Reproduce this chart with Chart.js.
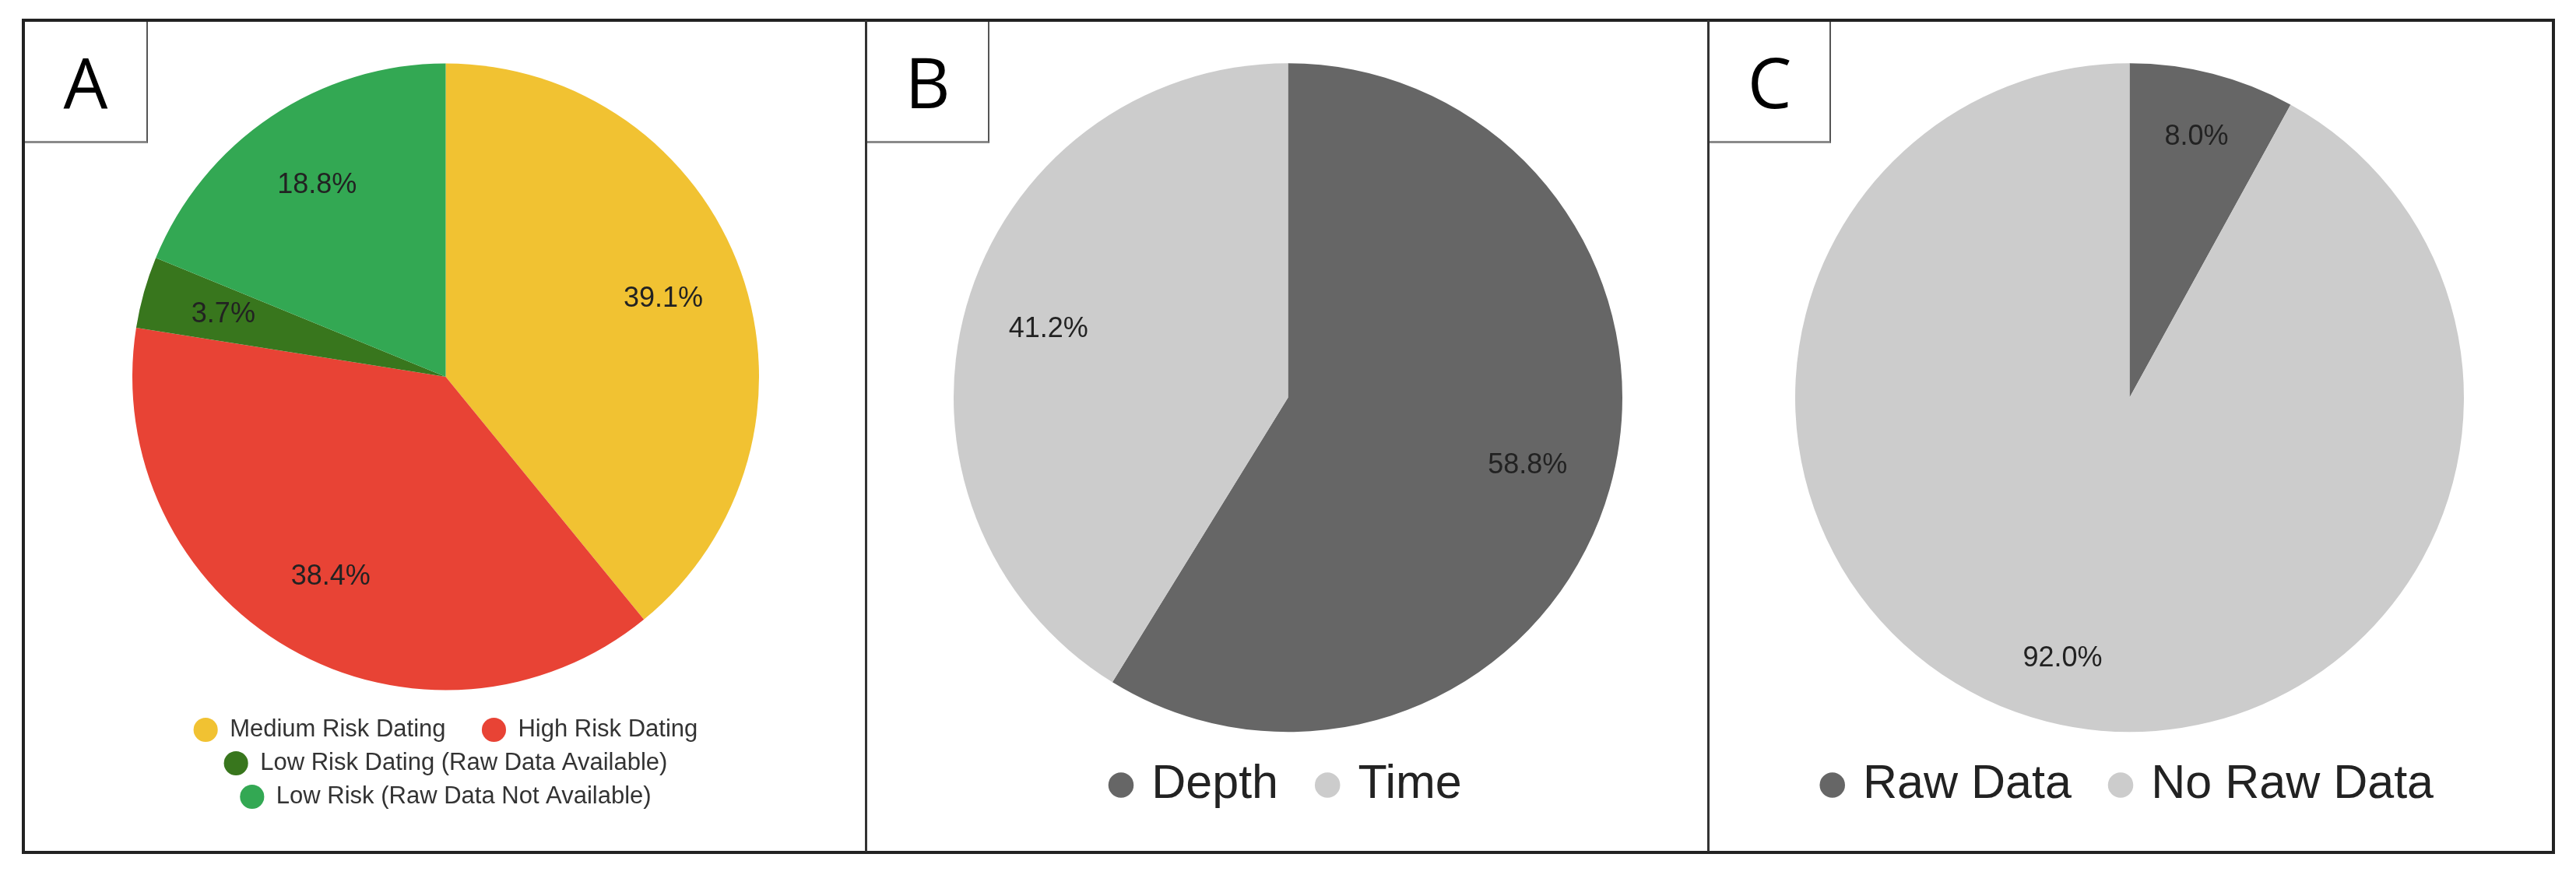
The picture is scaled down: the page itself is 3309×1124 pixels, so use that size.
<!DOCTYPE html>
<html>
<head>
<meta charset="utf-8">
<script src="https://cdn.jsdelivr.net/npm/chart.js@4.4.1/dist/chart.umd.min.js"></script>
<style>
  html, body { margin: 0; padding: 0; background: #fff; }
  body { width: 3309px; height: 1124px; position: relative; overflow: hidden; font-family: "Liberation Sans", Arial, sans-serif; }
  .frame { position: absolute; left: 28px; top: 24px; width: 3246px; height: 1065px; border: 4px solid #222; }
  .divider { position: absolute; top: 26px; width: 3px; height: 1068px; background: #333; }
  .tag { position: absolute; top: 28px; box-sizing: border-box; border-right: 2px solid #555; border-bottom: 3px solid #8a8a8a; background: #fff;
         font-family: "Open Sans", sans-serif; font-size: 90px; color: #000; text-align: center; line-height: 153px; height: 156px; }
  canvas { position: absolute; }
</style>
</head>
<body>
<div class="frame"></div>
<div class="divider" style="left:1111px"></div>
<div class="divider" style="left:2193px"></div>
<div class="tag" style="left:32px; width:158px">A</div>
<div class="tag" style="left:1114px; width:157px">B</div>
<div class="tag" style="left:2196px; width:156px">C</div>

<canvas id="chartA" width="805" height="991" style="left:170px; top:58px"></canvas>
<canvas id="chartB" width="859" height="968" style="left:1225px; top:81px"></canvas>
<canvas id="chartC" width="859" height="968" style="left:2306px; top:81px"></canvas>

<script>
// dados de cada painel
const riskLabels = ['Medium Risk Dating', 'High Risk Dating', 'Low Risk Dating (Raw Data Available)', 'Low Risk (Raw Data Not Available)'];
const riskValues = [39.1, 38.4, 3.7, 18.8];
const riskColors = ['#f1c232', '#e84335', '#38761d', '#33a853'];

const modelLabels = ['Depth', 'Time'];
const modelValues = [58.8, 41.2];

const rawLabels = ['Raw Data', 'No Raw Data'];
const rawValues = [8.0, 92.0];

const greyColors = ['#666666', '#cccccc'];

// rótulos de porcentagem dentro das fatias
const pctLabels = {
    id: 'pctLabels',
    afterDatasetsDraw(chart, args, opts) {
        const ctx = chart.ctx;
        const values = chart.data.datasets[0].data;
        const total = values.reduce((a, b) => a + b, 0);
        ctx.save();
        ctx.font = '36px "Liberation Sans", Arial, sans-serif';
        ctx.fillStyle = '#222';
        ctx.textAlign = 'center';
        ctx.textBaseline = 'middle';
        chart.getDatasetMeta(0).data.forEach((arc, i) => {
            const p = arc.getProps(['x', 'y', 'startAngle', 'endAngle', 'outerRadius'], true);
            const mid = (p.startAngle + p.endAngle) / 2;
            const r = p.outerRadius * opts.ratio;
            ctx.fillText((values[i] / total * 100).toFixed(1) + '%', p.x + Math.cos(mid) * r, p.y + Math.sin(mid) * r);
        });
        ctx.restore();
    }
};

// espaço extra entre itens da legenda (só no primeiro item)
function legendItems(spaces) {
    return chart => {
        const items = Chart.overrides.doughnut.plugins.legend.labels.generateLabels(chart);
        if (items.length > 1) items[0].text += ' '.repeat(spaces);
        return items;
    };
}

function makePie(id, labels, values, colors, legend, ratio) {
    return new Chart(document.getElementById(id), {
        type: 'pie',
        data: {
            labels: labels,
            datasets: [{
                data: values,
                backgroundColor: colors,
                borderWidth: 0,
                hoverOffset: 0
            }]
        },
        options: {
            responsive: false,
            animation: false,
            devicePixelRatio: 1,
            events: [],
            layout: { padding: 0 },
            plugins: {
                tooltip: { enabled: false },
                pctLabels: { ratio: ratio },
                legend: {
                    position: 'bottom',
                    labels: {
                        usePointStyle: true,
                        boxWidth: legend.boxWidth,
                        boxHeight: legend.boxHeight,
                        padding: legend.padding,
                        color: legend.color,
                        font: { family: '"Liberation Sans", Arial, sans-serif', size: legend.size },
                        generateLabels: legendItems(legend.spaces)
                    }
                }
            }
        },
        plugins: [pctLabels]
    });
}

makePie('chartA', riskLabels, riskValues, riskColors,
    { size: 31, padding: 12, boxWidth: 31, boxHeight: 22, color: '#333', spaces: 4 }, 0.737);

makePie('chartB', modelLabels, modelValues, greyColors,
    { size: 61, padding: 37.5, boxWidth: 17.5, boxHeight: 23, color: '#222', spaces: 1 }, 0.745);

makePie('chartC', rawLabels, rawValues, greyColors,
    { size: 61, padding: 37.5, boxWidth: 17.5, boxHeight: 23, color: '#222', spaces: 1 }, 0.805);
</script>
</body>
</html>
